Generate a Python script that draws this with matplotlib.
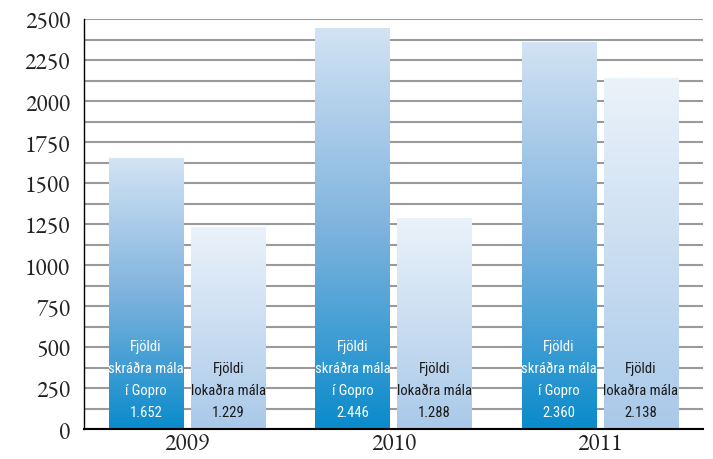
import numpy as np
import matplotlib.pyplot as plt
from matplotlib.colors import LinearSegmentedColormap

years = ['2009', '2010', '2011']
skrad = [1652, 2446, 2360]
lokad = [1229, 1288, 2138]
skrad_labels = ['1.652', '2.446', '2.360']
lokad_labels = ['1.229', '1.288', '2.138']
yticks = [0, 250, 500, 750, 1000, 1250, 1500, 1750, 2000, 2250, 2500]

cm_dark = LinearSegmentedColormap.from_list('dark', ['#d3e3f4', '#7fb3de', '#0a8bcb'])
cm_light = LinearSegmentedColormap.from_list('light', ['#ebf2fa', '#a9c9e9'])

fig = plt.figure(figsize=(7.13, 4.6), dpi=100)
ax = fig.add_axes([0.1178, 0.0652, 0.868, 0.8913])

x = np.arange(len(years))
w = 0.359
off = 0.199
grad = np.linspace(0, 1, 256).reshape(-1, 1)

def grad_bar(xc, h, cmap):
    bar = ax.bar(xc, h, w, color='none', zorder=3)[0]
    im = ax.imshow(grad, cmap=cmap, aspect='auto', zorder=3,
                   extent=(xc - w / 2, xc + w / 2, 0, h), origin='upper')
    im.set_clip_path(bar)

for i in range(len(years)):
    grad_bar(x[i] - off, skrad[i], cm_dark)
    grad_bar(x[i] + off, lokad[i], cm_light)
    font = dict(family=['Roboto Condensed', 'DejaVu Sans'], fontsize=10.5,
                ha='center', va='center', zorder=5)
    for j, t in enumerate(['Fjöldi', 'skráðra mála', 'í Gopro', skrad_labels[i]]):
        ax.text(x[i] - off, 505 - j * 133, t, color='white', **font)
    for j, t in enumerate(['Fjöldi', 'lokaðra mála', lokad_labels[i]]):
        ax.text(x[i] + off, 372 - j * 133, t, color='#1a1a1a', **font)

for v in range(0, 2501, 125):
    ax.axhline(v, color='#9a9a9a', lw=1.5, zorder=1)

ax.set_xlim(-0.5, 2.5)
ax.set_ylim(0, 2500)
ax.set_yticks(yticks)
ax.set_xticks(x)
ax.set_xticklabels(years)
for lab in ax.get_xticklabels() + ax.get_yticklabels():
    lab.set_family(['EB Garamond', 'Liberation Serif'])
    lab.set_fontsize(17)
    lab.set_color('#222222')
ax.tick_params(axis='both', length=0)
ax.tick_params(axis='y', pad=10)
ax.tick_params(axis='x', pad=2)
for s in ['top', 'right']:
    ax.spines[s].set_visible(False)
ax.spines['left'].set_linewidth(1.0)
ax.spines['bottom'].set_linewidth(1.5)
ax.spines['left'].set_zorder(6)
ax.spines['bottom'].set_zorder(6)

fig.savefig('out.png', dpi=100)
